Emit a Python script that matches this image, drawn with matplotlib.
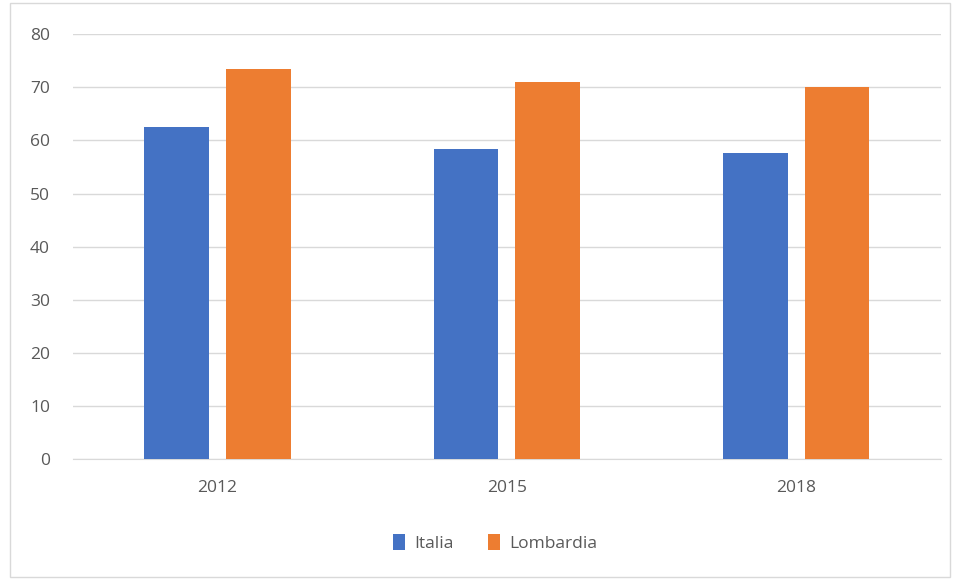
import matplotlib.pyplot as plt
import numpy as np
from matplotlib.patches import Rectangle

years = ["2012", "2015", "2018"]
italia = [62.5, 58.4, 57.7]
lombardia = [73.4, 71.0, 70.1]

plt.rcParams['font.family'] = ['Open Sans', 'DejaVu Sans']

fig = plt.figure(figsize=(9.59, 5.80), dpi=100)
ax = fig.add_axes([0.0761, 0.2086, 0.9049, 0.7324])

# outer chart border
fig.patches.append(Rectangle((10 / 959, 3 / 580), 940 / 959, 574 / 580,
                             transform=fig.transFigure, fill=False,
                             edgecolor='#d9d9d9', linewidth=1))

x = np.arange(len(years))
w = 0.224
gap = 0.059
off = (w + gap) / 2
ax.bar(x - off, italia, w, color='#4472c4', label='Italia', zorder=3)
ax.bar(x + off, lombardia, w, color='#ed7d31', label='Lombardia', zorder=3)

ax.set_xlim(-0.5, 2.5)
ax.set_ylim(0, 80)
ax.set_yticks(range(0, 81, 10))
ax.set_xticks(x)
ax.set_xticklabels(years)
ax.grid(axis='y', color='#d9d9d9', linewidth=1, zorder=0)
for s in ['top', 'right', 'left']:
    ax.spines[s].set_visible(False)
ax.spines['bottom'].set_color('#d9d9d9')
ax.tick_params(length=0, colors='#595959', labelsize=12.5)
ax.tick_params(axis='y', pad=16.5)
ax.tick_params(axis='x', pad=15)

fig.legend(loc='center', bbox_to_anchor=(495 / 959, 1 - 543 / 580), ncol=2,
           frameon=False, fontsize=12.5, handlelength=0.7, handleheight=1.0,
           handletextpad=0.5, columnspacing=2.0, labelcolor='#595959')

fig.savefig('out.png', dpi=100)
